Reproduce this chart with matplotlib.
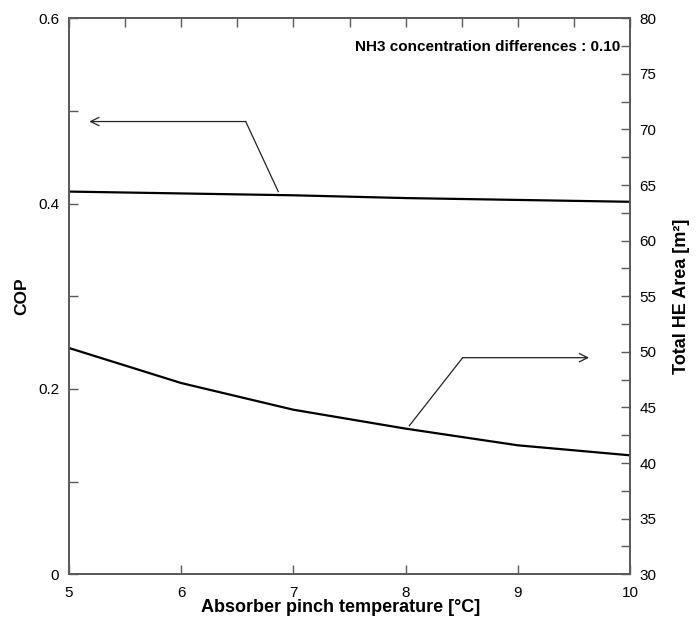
import matplotlib
matplotlib.use("Agg")
import matplotlib.pyplot as plt
from matplotlib.ticker import MultipleLocator, FixedLocator

plt.rcParams['font.family'] = ['Liberation Sans', 'DejaVu Sans']

# Absorber pinch temperature [°C]
pinch_temp = [5, 6, 7, 8, 9, 10]
# Coefficient of performance (left axis)
cop = [0.413, 0.411, 0.409, 0.406, 0.404, 0.402]
# Total heat-exchanger area [m²] (right axis)
he_area = [50.35, 47.2, 44.8, 43.1, 41.6, 40.7]

x_ticks = [5, 6, 7, 8, 9, 10]
cop_ticks = [0, 0.2, 0.4, 0.6]
cop_tick_labels = ['0', '0.2', '0.4', '0.6']
area_ticks = [30, 35, 40, 45, 50, 55, 60, 65, 70, 75, 80]

W, H = 697, 624
fig = plt.figure(figsize=(W / 100, H / 100), dpi=100)
ax = fig.add_axes([69 / W, 1 - 574.3 / H, 561 / W, 556 / H])
ax2 = ax.twinx()

spine_color = '#5a5a5a'
line_kw = dict(color='black', lw=1.6)

ax.plot(pinch_temp, cop, **line_kw)
ax2.plot(pinch_temp, he_area, **line_kw)

ax.set_xlim(5, 10)
ax.set_ylim(0, 0.6)
ax2.set_ylim(30, 80)

# x axis: integers on the bottom, half steps along the top
ax.xaxis.set_major_locator(FixedLocator(x_ticks))
ax.xaxis.set_minor_locator(MultipleLocator(0.5))
ax.set_xticklabels([str(v) for v in x_ticks])
ax.yaxis.set_major_locator(FixedLocator(cop_ticks))
ax.set_yticklabels(cop_tick_labels)
ax.yaxis.set_minor_locator(MultipleLocator(0.1))
ax2.yaxis.set_major_locator(FixedLocator(area_ticks))
ax2.yaxis.set_minor_locator(MultipleLocator(2.5))

tick_kw = dict(direction='in', length=6.5, width=1.0, color=spine_color,
               labelsize=11, labelcolor='black')
ax.tick_params(axis='x', which='major', bottom=True, top=True, pad=8.5, **tick_kw)
ax.tick_params(axis='x', which='minor', bottom=False, top=True, **tick_kw)
ax.tick_params(axis='y', which='both', left=True, right=False, pad=7, **tick_kw)
ax2.tick_params(axis='y', which='both', right=True, left=False, pad=7, **tick_kw)

for a in (ax, ax2):
    for s in a.spines.values():
        s.set_color(spine_color)
        s.set_linewidth(1.3)

# Axis titles placed in figure pixels
def fig_text(px, py, s, **kw):
    fig.text(px / W, 1 - py / H, s, ha='center', va='center',
             fontweight='bold', **kw)

fig_text(341, 608, 'Absorber pinch temperature [°C]', fontsize=13)
fig_text(21.5, 296.5, 'COP', fontsize=12.5, rotation=90)
fig_text(682, 296.5, 'Total HE Area [m²]', fontsize=13, rotation=90)

ax.text(0.982, 0.948, 'NH3 concentration differences : 0.10', transform=ax.transAxes,
        ha='right', va='center', fontsize=11, fontweight='bold')

# Leader arrows pointing each curve to its axis
arrow_kw = dict(arrowstyle='->,head_length=0.6,head_width=0.3', lw=0.9,
                color='#222222', shrinkA=0, shrinkB=0)
cop_leader = [(6.865, 0.413), (6.575, 0.4886)]
cop_tip = (5.181, 0.4886)
ax.plot([p[0] for p in cop_leader], [p[1] for p in cop_leader], color='#222222', lw=0.9)
ax.annotate('', xy=cop_tip, xytext=cop_leader[-1], arrowprops=arrow_kw)

area_leader = [(8.033, 43.36), (8.509, 49.48)]
area_tip = (9.635, 49.48)
ax2.plot([p[0] for p in area_leader], [p[1] for p in area_leader], color='#222222', lw=0.9)
ax2.annotate('', xy=area_tip, xytext=area_leader[-1], arrowprops=arrow_kw)

fig.savefig('out.png', dpi=100)
